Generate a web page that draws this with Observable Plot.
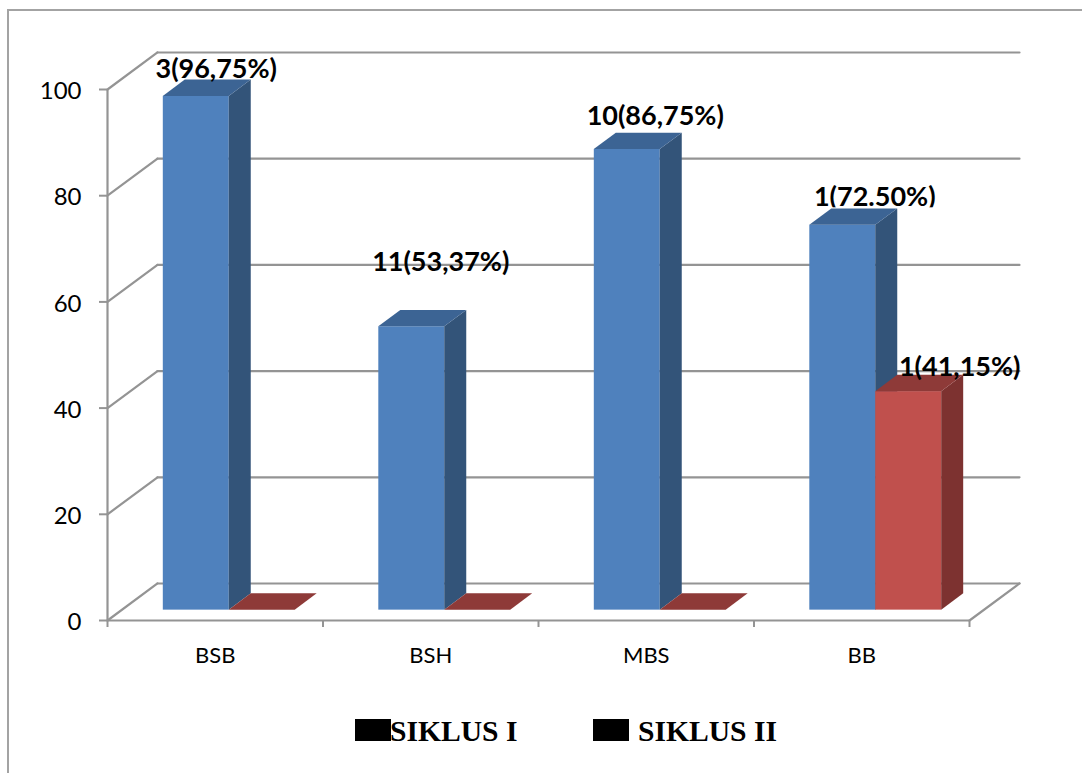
<!DOCTYPE html>
<html>
<head>
<meta charset="utf-8">
<script src="https://cdn.jsdelivr.net/npm/d3@7"></script>
<script src="https://cdn.jsdelivr.net/npm/@observablehq/plot@0.6"></script>
<style>
  html, body { margin: 0; padding: 0; background: #fff; overflow: hidden; }
  #page { position: relative; width: 1082px; height: 773px; overflow: hidden; }
  #border { position: absolute; left: 7px; top: 9px; right: 0; bottom: 0;
            border-left: 2px solid #a3a3a3; border-top: 2px solid #a3a3a3; }
  .key { position: absolute; top: 719px; width: 36px; height: 22px; background: #000; }
  .key-label { position: absolute; top: 713px; font: bold 29.6px/36px "Liberation Serif", serif; color: #000; white-space: nowrap; }
</style>
</head>
<body>
<div id="page">
  <div id="chart"></div>
  <div id="border"></div>
  <div class="key" style="left:355px"></div>
  <div class="key-label" style="left:390px">SIKLUS I</div>
  <div class="key" style="left:593px"></div>
  <div class="key-label" style="left:638px">SIKLUS II</div>
</div>
<script>
// Scores per category and cycle
const categories = ["BSB", "BSH", "MBS", "BB"];
const siklusI = [96.75, 53.37, 86.75, 72.5];
const siklusII = [0, 0, 0, 41.15];
const labelTexts = ["3(96,75%)", "11(53,37%)", "10(86,75%)", "1(72.50%)", "1(41,15%)"];
const yTicks = [0, 20, 40, 60, 80, 100];

// Oblique projection: depth 0 is the front plane, depth 1 the back wall
const wallDx = 0.232;
const wallDy = 6.97;
const px = (x, depth) => x + depth * wallDx;
const py = (v, depth) => v + depth * wallDy;

const barFront = 0.28;
const barBack = 0.72;
const halfWidth = 0.306;

const palette = {
  one: {front: "#4f81bd", side: "#335479", top: "#3c6494"},
  two: {front: "#c0504d", side: "#7d3230", top: "#8e3a38"}
};

// Front, side and top faces of one box; a zero value leaves only the top
function box(x0, x1, v, colors) {
  const faces = [];
  if (v > 0) {
    faces.push(Plot.rect([{}], {
      x1: () => px(x0, barFront), x2: () => px(x1, barFront),
      y1: () => py(0, barFront), y2: () => py(v, barFront),
      fill: colors.front
    }));
    faces.push(Plot.areaY([barFront, barBack], {
      x: (d) => px(x1, d), y1: (d) => py(0, d), y2: (d) => py(v, d),
      fill: colors.side
    }));
  }
  faces.push(Plot.areaX([barFront, barBack], {
    y: (d) => py(v, d), x1: (d) => px(x0, d), x2: (d) => px(x1, d),
    fill: colors.top
  }));
  return faces;
}

const gridStyle = {stroke: "#949494", strokeWidth: 2.2};

// Back wall gridlines with the diagonals joining them to the value axis
const walls = yTicks.flatMap((t) => [
  Plot.line([0, 1], {x: (d) => px(0, d), y: (d) => py(t, d), ...gridStyle}),
  Plot.line([0, 4], {x: (d) => px(d, 1), y: () => py(t, 1), ...gridStyle})
]);
const floorEdge = Plot.line([0, 1], {x: (d) => px(4, d), y: (d) => py(0, d), ...gridStyle});

const barMarks = categories.flatMap((c, i) => [
  ...box(i + 0.5 - halfWidth, i + 0.5, siklusI[i], palette.one),
  ...box(i + 0.5, i + 0.5 + halfWidth, siklusII[i], palette.two)
]);

// Value labels, placed from each box top with a hand-set nudge
const labelPlacement = [
  {x: 0.5, v: siklusI[0], dx: -13, dy: -11},
  {x: 1.5, v: siklusI[1], dx: -4, dy: -48},
  {x: 2.5, v: siklusI[2], dx: -5, dy: -17},
  {x: 3.5, v: siklusI[3], dx: -1, dy: -12},
  {x: 3.653, v: siklusII[3], dx: 51, dy: -8}
];
const labelMark = (i) => {
  const p = labelPlacement[i];
  return Plot.text([labelTexts[i]], {
    x: () => px(p.x, barFront),
    y: () => py(p.v, barBack),
    text: (d) => d,
    dx: p.dx, dy: p.dy,
    fontFamily: "Lato", fontWeight: 700, fontSize: 27, fill: "#000"
  });
};

// White band that trims the foot of the BB label, as its text box does
const labelTrim = Plot.rect([{}], {
  x1: () => 3.2, x2: () => 3.9,
  y1: () => py(siklusI[3], barFront), y2: () => py(siklusI[3], barBack) + 0.2,
  fill: "#fff"
});

const plot = Plot.plot({
  width: 1082,
  height: 700,
  marginLeft: 107,
  marginRight: 113,
  marginTop: 89,
  marginBottom: 80,
  x: {domain: [0, 4]},
  y: {domain: [0, 100]},
  style: {background: "transparent"},
  marks: [
    ...walls,
    floorEdge,
    Plot.ruleX([0], {y1: 0, y2: 100, ...gridStyle}),
    Plot.ruleY([0], {x1: 0, x2: 4, ...gridStyle}),
    Plot.axisY({
      ticks: yTicks, tickSize: 8, label: null, text: null,
      stroke: "#949494", strokeWidth: 2
    }),
    Plot.text(yTicks, {
      x: 0, y: (d) => d, text: (d) => String(d), dx: -26, dy: 2, textAnchor: "end",
      fill: "#000", fontFamily: "Lato", fontSize: 24
    }),
    Plot.axisX({
      ticks: [0, 1, 2, 3, 4], tickSize: 7, tickFormat: () => "", label: null,
      stroke: "#949494", strokeWidth: 2
    }),
    Plot.axisX({
      ticks: [0.5, 1.5, 2.5, 3.5], tickSize: 0, tickPadding: 27, label: null,
      tickFormat: (d) => categories[Math.floor(d)],
      color: "#000", fontFamily: "Lato", fontSize: 22
    }),
    labelMark(3),
    labelTrim,
    ...barMarks,
    labelMark(0),
    labelMark(1),
    labelMark(2),
    labelMark(4)
  ]
});
document.getElementById("chart").appendChild(plot);
</script>
</body>
</html>
